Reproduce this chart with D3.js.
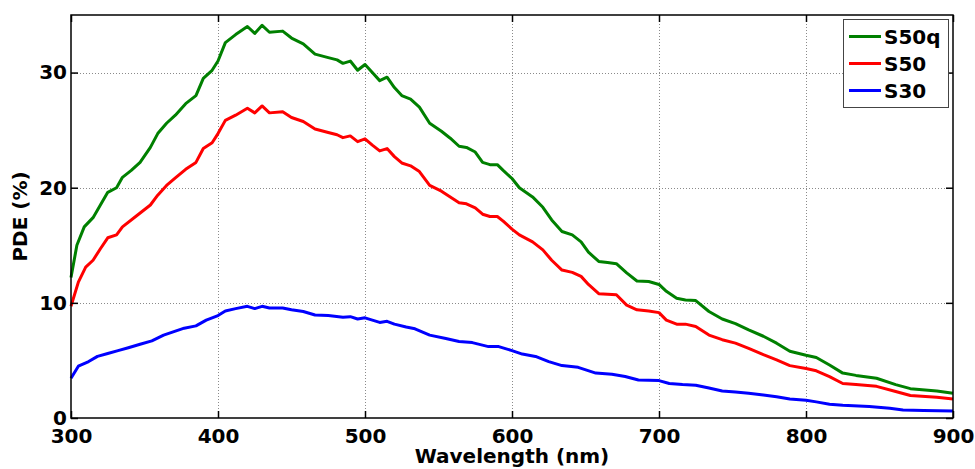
<!DOCTYPE html>
<html>
<head>
<meta charset="utf-8">
<script src="https://cdn.jsdelivr.net/npm/d3@7"></script>
<style>
  body { margin: 0; background: #fff; }
  svg text { font-family: "DejaVu Sans", sans-serif; font-weight: bold; }
</style>
</head>
<body>
<svg id="chart" width="975" height="469"></svg>
<script>
// values
const s50qWl  = [300,304,309,315,320,325,331,335,341,347,354,359,365,371,378,385,390,396,400,405,412,420,425,430,435,444,450,458,466,475,481,485,490,495,500,505,510,515,520,525,531,537,544,552,558,564,569,575,580,585,590,594,600,605,614,621,627,634,641,647,652,659,665,671,678,685,693,700,705,712,718,725,734,743,752,761,771,780,789,800,807,816,825,834,848,861,871,889,900];
const s50qPde = [12.2,15.0,16.6,17.4,18.5,19.6,20.0,20.9,21.5,22.2,23.5,24.7,25.6,26.3,27.3,28.0,29.5,30.2,31.0,32.6,33.3,34.0,33.4,34.1,33.5,33.6,33.0,32.5,31.6,31.3,31.1,30.8,31.0,30.2,30.7,30.0,29.3,29.6,28.7,28.0,27.7,27.0,25.6,24.9,24.3,23.6,23.5,23.1,22.2,22.0,22.0,21.5,20.8,20.0,19.2,18.3,17.2,16.2,15.9,15.3,14.4,13.6,13.5,13.4,12.6,11.9,11.85,11.6,11.0,10.4,10.25,10.2,9.25,8.6,8.2,7.65,7.1,6.5,5.8,5.45,5.25,4.6,3.9,3.7,3.45,2.9,2.55,2.35,2.15];

const s50Wl  = [300,305,310,315,320,325,331,335,344,354,359,365,371,378,385,390,396,400,405,412,420,425,430,435,444,450,458,466,475,481,485,490,495,500,505,510,515,520,525,531,537,544,552,558,564,569,575,580,585,590,594,600,605,614,621,627,634,641,647,652,659,665,671,678,685,693,700,705,712,718,725,734,743,752,761,771,780,789,800,807,816,825,834,848,861,871,889,900];
const s50Pde = [9.7,11.8,13.1,13.7,14.7,15.65,15.9,16.6,17.5,18.5,19.35,20.2,20.85,21.6,22.2,23.4,23.9,24.7,25.85,26.3,26.9,26.5,27.1,26.5,26.6,26.1,25.75,25.1,24.8,24.6,24.35,24.5,24.0,24.25,23.7,23.2,23.4,22.7,22.15,21.9,21.4,20.2,19.7,19.2,18.7,18.6,18.25,17.7,17.5,17.5,17.1,16.4,15.9,15.3,14.6,13.7,12.85,12.65,12.3,11.6,10.8,10.75,10.7,9.8,9.4,9.3,9.15,8.5,8.15,8.15,7.95,7.2,6.8,6.5,6.05,5.5,5.05,4.55,4.3,4.1,3.6,3.0,2.9,2.75,2.3,1.95,1.8,1.65];

const s30Wl  = [300,305,312,318,325,332,339,347,355,363,371,377,385,392,400,405,412,420,425,430,435,444,450,458,466,475,485,490,495,500,505,510,515,520,528,534,544,555,564,573,584,591,600,607,616,625,634,645,657,668,677,686,700,707,716,725,734,743,752,761,771,780,789,800,807,816,825,843,857,866,880,900];
const s30Pde = [3.45,4.5,4.9,5.35,5.6,5.85,6.1,6.4,6.7,7.2,7.55,7.8,8.0,8.5,8.9,9.3,9.5,9.7,9.5,9.7,9.55,9.55,9.4,9.25,8.95,8.9,8.75,8.8,8.6,8.7,8.5,8.3,8.4,8.15,7.9,7.75,7.2,6.9,6.65,6.55,6.2,6.2,5.85,5.55,5.35,4.9,4.55,4.4,3.9,3.8,3.6,3.3,3.25,3.0,2.9,2.85,2.6,2.35,2.25,2.15,2.0,1.85,1.65,1.55,1.4,1.2,1.1,1.0,0.85,0.7,0.65,0.6];

const seriesNames  = ["S50q", "S50", "S30"];
const seriesColors = ["#008000", "#ff0000", "#0000ff"];
const xTicks = [300, 400, 500, 600, 700, 800, 900];
const yTicks = [0, 10, 20, 30];

const series = [
  {name: seriesNames[0], color: seriesColors[0], wl: s50qWl, pde: s50qPde},
  {name: seriesNames[1], color: seriesColors[1], wl: s50Wl,  pde: s50Pde},
  {name: seriesNames[2], color: seriesColors[2], wl: s30Wl,  pde: s30Pde}
];

const svg = d3.select("#chart");
const L = 71, R = 953, T = 15, B = 418;
const FONT = "DejaVu Sans, sans-serif";

const x = d3.scaleLinear().domain([300, 900]).range([L, R]);
const y = d3.scaleLinear().domain([0, 35]).range([B, T]);

// dotted grid
const grid = svg.append("g").attr("stroke", "#8a8a8a").attr("stroke-width", 1).attr("stroke-dasharray", "1,2");
grid.selectAll(".gx").data(xTicks.slice(1, -1)).join("line")
  .attr("x1", d => Math.round(x(d)) + 0.5).attr("x2", d => Math.round(x(d)) + 0.5)
  .attr("y1", T).attr("y2", B);
grid.selectAll(".gy").data(yTicks.slice(1)).join("line")
  .attr("y1", d => Math.round(y(d)) + 0.5).attr("y2", d => Math.round(y(d)) + 0.5)
  .attr("x1", L).attr("x2", R);

// lines
const line = d3.line().x(d => x(d[0])).y(d => y(d[1]));
svg.append("g").selectAll("path").data(series.slice().reverse()).join("path")
  .attr("d", s => line(s.wl.map((w, i) => [w, s.pde[i]])))
  .attr("fill", "none")
  .attr("stroke", s => s.color)
  .attr("stroke-width", 3)
  .attr("stroke-linejoin", "round");

// axes with inward ticks, bold labels
const xAxis = svg.append("g").attr("transform", `translate(0,${B})`)
  .call(d3.axisBottom(x).tickValues(xTicks).tickSizeInner(-7).tickSizeOuter(0).tickPadding(12));
const yAxis = svg.append("g").attr("transform", `translate(${L},0)`)
  .call(d3.axisLeft(y).tickValues(yTicks).tickSizeInner(-7).tickSizeOuter(0).tickPadding(12));
svg.append("g").attr("transform", `translate(0,${T})`)
  .call(d3.axisTop(x).tickValues(xTicks).tickSizeInner(-7).tickSizeOuter(0).tickFormat(""));
svg.append("g").attr("transform", `translate(${R},0)`)
  .call(d3.axisRight(y).tickValues(yTicks).tickSizeInner(-7).tickSizeOuter(0).tickFormat(""));

svg.selectAll(".domain").remove();
svg.selectAll(".tick line").attr("stroke", "#000").attr("stroke-width", 1.5);
[xAxis, yAxis].forEach(a => a.selectAll("text")
  .attr("font-size", 20).attr("font-weight", "bold").attr("fill", "#000")
  .attr("font-family", FONT));
xAxis.selectAll("text").attr("dy", "0.72em").attr("y", 11);
yAxis.selectAll("text").attr("x", -4);

// box
svg.append("rect").attr("x", L).attr("y", T).attr("width", R - L).attr("height", B - T)
  .attr("fill", "none").attr("stroke", "#000").attr("stroke-width", 1.5);

// axis titles
svg.append("text").attr("x", (L + R) / 2).attr("y", 463)
  .attr("text-anchor", "middle").attr("font-size", 20).text("Wavelength (nm)");
svg.append("text").attr("transform", `translate(27,${(T + B) / 2}) rotate(-90)`)
  .attr("text-anchor", "middle").attr("font-size", 20).text("PDE (%)");

// legend
const lg = svg.append("g");
lg.append("rect").attr("x", 843.5).attr("y", 19.5).attr("width", 105).attr("height", 88)
  .attr("fill", "#fff").attr("stroke", "#444").attr("stroke-width", 1);
const rows = lg.selectAll("g").data(series).join("g")
  .attr("transform", (d, i) => `translate(0,${36.5 + i * 27})`);
rows.append("line").attr("x1", 849).attr("x2", 881).attr("y1", 0).attr("y2", 0)
  .attr("stroke", d => d.color).attr("stroke-width", 3);
rows.append("circle").attr("cx", 865).attr("cy", 0).attr("r", 1.6).attr("fill", d => d.color);
rows.append("text").attr("x", 884).attr("y", 0).attr("dy", "0.36em")
  .attr("font-size", 20).text(d => d.name);
</script>
</body>
</html>
